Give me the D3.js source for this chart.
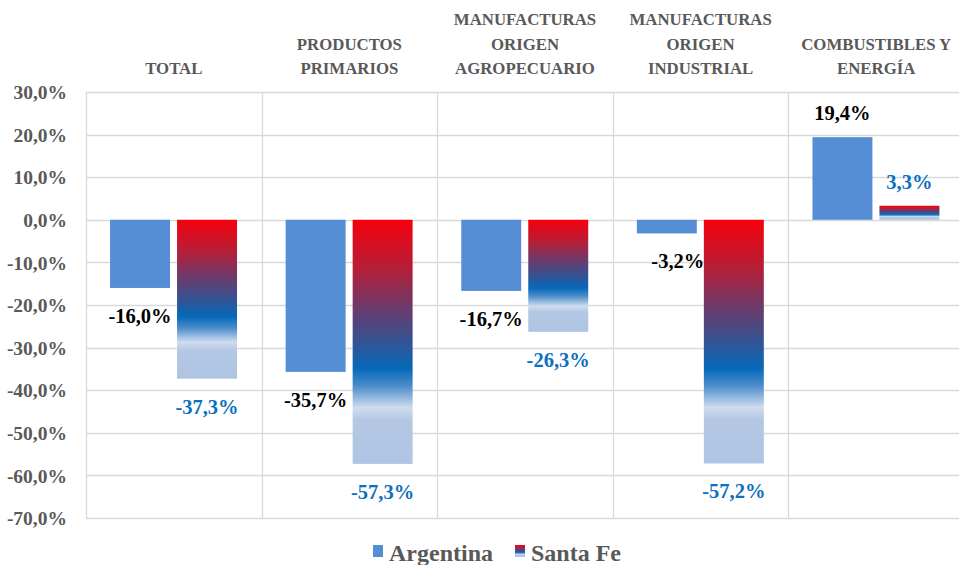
<!DOCTYPE html>
<html>
<head>
<meta charset="utf-8">
<script src="https://cdn.jsdelivr.net/npm/d3@7"></script>
<style>
  body { margin: 0; background: #fff; }
  svg { display: block; }
  text { font-family: "Liberation Serif", "Times New Roman", Times, Tinos, "DejaVu Serif", serif; font-weight: bold; }
</style>
</head>
<body>
<script>
const categories = [
  ['TOTAL'],
  ['PRODUCTOS', 'PRIMARIOS'],
  ['MANUFACTURAS', 'ORIGEN', 'AGROPECUARIO'],
  ['MANUFACTURAS', 'ORIGEN', 'INDUSTRIAL'],
  ['COMBUSTIBLES Y', 'ENERGÍA']
];
const seriesNames = ['Argentina', 'Santa Fe'];
const argentina = [-16.0, -35.7, -16.7, -3.2, 19.4];
const santaFe = [-37.3, -57.3, -26.3, -57.2, 3.3];
const yTicks = [30, 20, 10, 0, -10, -20, -30, -40, -50, -60, -70];

const width = 959, height = 565;
const margin = { left: 86, right: -5, top: 92, bottom: 47 };

const locale = d3.formatLocale({ decimal: ',', thousands: '.', grouping: [3], currency: ['', ''], minus: '-' });
const fmt = d => locale.format('.1f')(d) + '%';

const catKeys = categories.map((c, i) => i);
const x0 = d3.scaleBand().domain(catKeys).range([margin.left, width - margin.right]);
const x1 = d3.scaleBand().domain(seriesNames)
  .range([x0.bandwidth() * 0.137, x0.bandwidth() * 0.86]).paddingInner(0.105);
const y = d3.scaleLinear().domain([-70, 30]).range([height - margin.bottom, margin.top]);

const svg = d3.select('body').append('svg').attr('width', width).attr('height', height);

// gradient for Santa Fe bars
const grad = svg.append('defs').append('linearGradient')
  .attr('id', 'sfGrad').attr('x1', 0).attr('y1', 0).attr('x2', 0).attr('y2', 1);
[[0, '#f5000c'], [0.2, '#b51f38'], [0.36, '#6c3a6b'], [0.48, '#3c4f8d'], [0.61, '#0669ba'],
 [0.68, '#4a8ccb'], [0.77, '#cfdcee'], [0.82, '#b4c8e4'], [1, '#aec4e2']]
  .forEach(s => grad.append('stop').attr('offset', s[0]).attr('stop-color', s[1]));

// grid
const gridColor = '#d9d9d9';
svg.append('g').selectAll('line').data(yTicks).join('line')
  .attr('x1', margin.left).attr('x2', width)
  .attr('y1', d => Math.round(y(d)) + 0.5).attr('y2', d => Math.round(y(d)) + 0.5)
  .attr('stroke', gridColor).attr('stroke-width', 1.3);
svg.append('g').selectAll('line').data(catKeys).join('line')
  .attr('x1', d => Math.round(x0(d)) + 0.5).attr('x2', d => Math.round(x0(d)) + 0.5)
  .attr('y1', y(30)).attr('y2', y(-70))
  .attr('stroke', gridColor).attr('stroke-width', 1.3);

// y axis
const yAxis = d3.axisLeft(y).tickValues(yTicks).tickFormat(fmt).tickSize(0).tickPadding(19);
const ax = svg.append('g').attr('transform', `translate(${margin.left},0)`).call(yAxis);
ax.attr('font-family', null);
ax.select('.domain').remove();
ax.selectAll('text').attr('fill', '#595959').style('font-size', '19.5px').attr('dy', '0.34em');

// category labels
const catG = svg.append('g').selectAll('text').data(categories).join('text')
  .attr('text-anchor', 'middle').attr('fill', '#595959').style('font-size', '16.8px')
  .attr('transform', (d, i) => `translate(${x0(i) + x0.bandwidth() / 2},0)`);
catG.selectAll('tspan').data(d => d.map((t, j) => ({ t, j, n: d.length }))).join('tspan')
  .attr('x', 0).attr('y', d => 74 - (d.n - 1 - d.j) * 24.5).text(d => d.t);

// bars
const rows = categories.map((c, i) => ({ i, values: [argentina[i], santaFe[i]] }));
const groups = svg.append('g').selectAll('g').data(rows).join('g')
  .attr('transform', d => `translate(${x0(d.i)},0)`);

groups.selectAll('rect').data(d => d.values.map((v, k) => ({ s: seriesNames[k], v, k })))
  .join('rect')
  .attr('x', d => x1(d.s)).attr('width', x1.bandwidth())
  .attr('y', d => y(Math.max(0, d.v))).attr('height', d => Math.abs(y(d.v) - y(0)))
  .attr('fill', d => d.k === 0 ? '#558ed5' : 'url(#sfGrad)');

// value labels
const labelNudge = { '3-0': 11 };
groups.selectAll('text').data(d => d.values.map((v, k) => ({ s: seriesNames[k], v, k, i: d.i })))
  .join('text')
  .attr('text-anchor', 'middle')
  .attr('x', d => x1(d.s) + x1.bandwidth() / 2 + (labelNudge[d.i + '-' + d.k] || 0))
  .attr('y', d => d.v < 0 ? y(d.v) + 35 : y(d.v) - 17)
  .attr('fill', d => d.k === 0 ? '#000' : '#0c70c0')
  .style('font-size', '20.5px')
  .text(d => fmt(d.v));

// legend
const legend = svg.append('g').attr('transform', 'translate(373,0)');
const legItems = [{ name: seriesNames[0], x: 0, fill: '#558ed5' }, { name: seriesNames[1], x: 142, fill: 'url(#sfGrad)' }];
const li = legend.selectAll('g').data(legItems).join('g').attr('transform', d => `translate(${d.x},0)`);
li.append('rect').attr('x', 0).attr('y', 545).attr('width', 10).attr('height', 12).attr('fill', d => d.fill);
li.append('text').attr('x', 16).attr('y', 561).attr('fill', '#595959').style('font-size', '24px').text(d => d.name);
</script>
</body>
</html>
